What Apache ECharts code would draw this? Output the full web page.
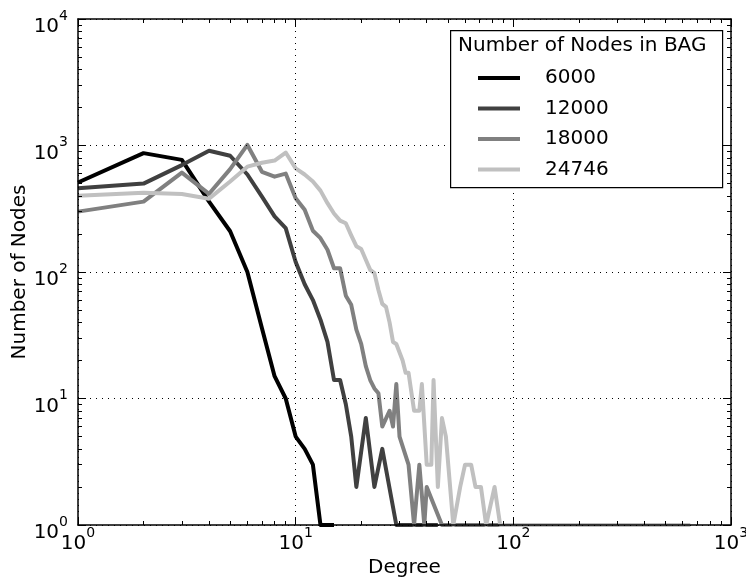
<!DOCTYPE html>
<html>
<head>
<meta charset="utf-8">
<script src="https://cdn.jsdelivr.net/npm/echarts@6/dist/echarts.min.js"></script>
<style>
html,body{margin:0;padding:0;background:#fff;}
#chart{width:746px;height:583px;}
</style>
</head>
<body>
<div id="chart"></div>
<script>
// ---- data ----
var seriesNames = ['6000', '12000', '18000', '24746'];

var deg6000 = [1, 2, 3, 4, 5, 6, 7, 8, 9, 10, 11, 12, 13, 15];
var cnt6000 = [510, 870, 770, 360, 210, 100, 36, 15, 10, 5, 4, 3, 1, 1];

var deg12000 = [1, 2, 3, 4, 5, 6, 7, 8, 9, 10, 11, 12, 13, 14, 15, 16, 17, 18, 19, 21, 23, 25, 29, 45];
var cnt12000 = [460, 500, 700, 910, 830, 590, 395, 275, 222, 120, 80, 60, 42, 28, 14, 14, 9, 5, 2, 7, 2, 4, 1, 1];

var deg18000 = [1, 2, 3, 4, 5, 6, 7, 8, 9, 10, 11, 12, 13, 14, 15, 16, 17, 18, 19, 20, 21, 22, 23, 24, 25, 27, 28, 29, 30, 33, 35, 37, 39, 40, 47, 110];
var cnt18000 = [300, 360, 610, 415, 650, 1010, 620, 567, 600, 383, 310, 212, 185, 150, 107, 107, 65, 55, 35, 27, 18, 14, 12, 11, 6, 8, 6, 13, 5, 3, 1, 3, 1, 2, 1, 1];

var deg24746 = [1, 2, 3, 4, 5, 6, 7, 8, 9, 10, 11, 12, 13, 14, 15, 16, 17, 18, 19, 20, 21, 22, 23, 24, 25, 26, 27, 28, 29, 31, 32, 33, 35, 37, 38, 40, 42, 43, 45, 47, 49, 53, 57, 60, 64, 67, 71, 75, 82, 87, 650];
var cnt24746 = [400, 424, 414, 380, 520, 680, 730, 760, 880, 660, 590, 520, 440, 350, 290, 255, 243, 195, 160, 152, 125, 104, 98, 72, 56, 53, 40, 28, 27, 20, 16, 16, 8, 8, 13, 3, 3, 14, 2, 7, 5, 1, 2, 3, 3, 2, 2, 1, 2, 1, 1];

var xMajor = [1, 10, 100, 1000];
var yMajor = [1, 10, 100, 1000, 10000];
var xMinor = [2,3,4,5,6,7,8,9,20,30,40,50,60,70,80,90,200,300,400,500,600,700,800,900];
var yMinor = [2,3,4,5,6,7,8,9,20,30,40,50,60,70,80,90,200,300,400,500,600,700,800,900,2000,3000,4000,5000,6000,7000,8000,9000];

var colors = ['#000000', '#404040', '#808080', '#c0c0c0'];
// --------------------------------------

var FONT = 'DejaVu Sans';
function pairs(d, c) { return d.map(function (v, i) { return [v, c[i]]; }); }
var allData = [pairs(deg6000, cnt6000), pairs(deg12000, cnt12000), pairs(deg18000, cnt18000), pairs(deg24746, cnt24746)];

var rich = {
  b: { fontSize: 20, fontFamily: FONT, color: '#000', lineHeight: 28, verticalAlign: 'bottom' },
  s: { fontSize: 14, fontFamily: FONT, color: '#000', lineHeight: 12, verticalAlign: 'top' }
};
function supFmt(v) {
  var e = Math.round(Math.log(v) / Math.LN10);
  return '{b|10}{s|' + e + '}';
}

function makeAxis(kind, pos, major, opts) {
  var isX = kind === 'x';
  var a = {
    type: 'log', logBase: 10, position: pos,
    min: 1, max: isX ? 1000 : 10000,
    z: 10,
    axisLine: { show: !!opts.line, onZero: false, lineStyle: { color: '#000', width: 1.5 } },
    axisTick: { show: true, inside: true, length: major ? 8 : 4, lineStyle: { color: '#000', width: 1 } },
    axisLabel: { show: false },
    splitLine: { show: false },
    minorTick: { show: false },
    minorSplitLine: { show: false }
  };
  a.axisTick.customValues = major ? (isX ? xMajor : yMajor) : (isX ? xMinor : yMinor);
  if (opts.labels) {
    a.axisLabel = {
      show: true, formatter: supFmt, rich: rich,
      margin: isX ? 1 : 10,
      padding: isX ? 0 : [8, 0, 0, 0],
      customValues: isX ? xMajor : yMajor,
      hideOverlap: false
    };
  }
  if (opts.split) {
    a.splitLine = { show: true, lineStyle: { color: '#000', width: 1, type: [1, 5] } };
  }
  if (opts.name) {
    a.name = opts.name;
    a.nameLocation = 'middle';
    a.nameGap = opts.nameGap;
    a.nameMoveOverlap = false;
    a.nameTextStyle = { fontSize: 20, fontFamily: FONT, color: '#000' };
  }
  return a;
}

var xAxes = [
  makeAxis('x', 'bottom', true, { line: true, labels: true, split: true, name: 'Degree', nameGap: 33 }),
  makeAxis('x', 'bottom', false, {}),
  makeAxis('x', 'top', true, { line: true }),
  makeAxis('x', 'top', false, {})
];
var yAxes = [
  makeAxis('y', 'left', true, { line: true, labels: true, split: true, name: 'Number of Nodes', nameGap: 48 }),
  makeAxis('y', 'left', false, {}),
  makeAxis('y', 'right', true, { line: true }),
  makeAxis('y', 'right', false, {})
];

var series = allData.map(function (d, i) {
  return {
    name: seriesNames[i], type: 'line', data: d,
    xAxisIndex: 0, yAxisIndex: 0,
    symbol: 'none', showSymbol: false, clip: true,
    lineStyle: { color: colors[i], width: 4, join: 'round', cap: 'butt' },
    itemStyle: { color: colors[i] },
    z: 2
  };
});

var chart = echarts.init(document.getElementById('chart'), null, { renderer: 'canvas' });
chart.setOption({
  animation: false,
  backgroundColor: '#fff',
  textStyle: { fontFamily: FONT },
  grid: { left: 78, right: 15, top: 19, bottom: 58, containLabel: false, outerBoundsMode: 'none' },
  xAxis: xAxes,
  yAxis: yAxes,
  legend: {
    show: true,
    data: seriesNames,
    orient: 'vertical',
    left: 478, top: 66,
    padding: 0,
    itemGap: 6.5,
    itemWidth: 42, itemHeight: 4,
    icon: 'path://M0,0 L42,0 L42,4 L0,4 Z',
    textStyle: { fontSize: 20, fontFamily: FONT, color: '#000', lineHeight: 24, padding: [0, 0, 0, 20] },
    selectedMode: false,
    z: 60
  },
  graphic: [
    { type: 'rect', left: 450, top: 30, shape: { width: 272, height: 157 }, style: { fill: '#fff', stroke: '#000', lineWidth: 1.2 }, z: 50 },
    { type: 'text', left: 458, top: 36, style: { text: 'Number of Nodes in BAG', font: '20px "DejaVu Sans"', fill: '#000' }, z: 51 }
  ],
  series: series
});
</script>
</body>
</html>
